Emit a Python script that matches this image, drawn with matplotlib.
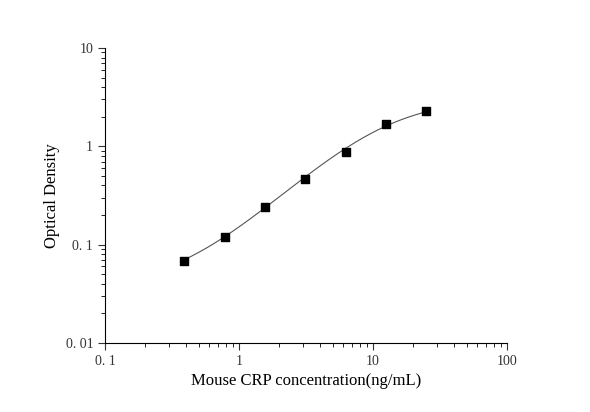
import numpy as np
import matplotlib
matplotlib.use("Agg")
import matplotlib.pyplot as plt
from matplotlib.ticker import FixedLocator, LogLocator, NullFormatter

conc = [0.39, 0.78, 1.56, 3.125, 6.25, 12.5, 25]
od = [0.068, 0.12, 0.24, 0.47, 0.87, 1.7, 2.3]
xticks = [0.1, 1, 10, 100]
xtick_labels = ["0. 1", "1", "10", "100"]
yticks = [0.01, 0.1, 1, 10]
ytick_labels = ["0. 01", "0. 1", "1", "10"]

plt.rcParams['font.family'] = ['Liberation Serif', 'DejaVu Serif']

# 4PL fit (grid search in log space)
x = np.array(conc); y = np.array(od)
best = None
for a in np.linspace(0.03, 0.09, 13):
    for d in np.linspace(2.4, 3.6, 13):
        for c in np.linspace(3, 12, 37):
            for b in np.linspace(0.8, 2.5, 35):
                f = d + (a - d) / (1 + (x / c) ** b)
                e = np.sum((np.log(f) - np.log(y)) ** 2)
                if best is None or e < best[0]:
                    best = (e, a, d, c, b)
_, a, d, c, b = best
xs = np.logspace(np.log10(conc[0]), np.log10(conc[-1]), 200)
ys = d + (a - d) / (1 + (xs / c) ** b)

fig = plt.figure(figsize=(5.9, 4.12), dpi=100)
ax = fig.add_axes([105/590, (412-343)/412, (507-105)/590, (343-48)/412])
ax.plot(xs, ys, color='#555555', lw=0.8)
ax.scatter(conc, od, marker='s', s=30, color='black', zorder=3)
ax.set_xscale('log'); ax.set_yscale('log')
ax.set_xlim(0.1, 100); ax.set_ylim(0.01, 10)
ax.spines['top'].set_visible(False); ax.spines['right'].set_visible(False)
ax.xaxis.set_major_locator(FixedLocator(xticks))
ax.set_xticklabels(xtick_labels)
ax.yaxis.set_major_locator(FixedLocator(yticks))
ax.set_yticklabels(ytick_labels)
for axis in (ax.xaxis, ax.yaxis):
    axis.set_minor_locator(LogLocator(base=10, subs=np.arange(2, 10)))
    axis.set_minor_formatter(NullFormatter())
ax.tick_params(which='major', direction='out', length=5, labelsize=10, colors='#333333')
ax.tick_params(which='minor', direction='out', length=3)
ax.set_xlabel('Mouse CRP concentration(ng/mL)', fontsize=12)
ax.set_ylabel('Optical Density', fontsize=12)
fig.savefig('out.png', dpi=100)
